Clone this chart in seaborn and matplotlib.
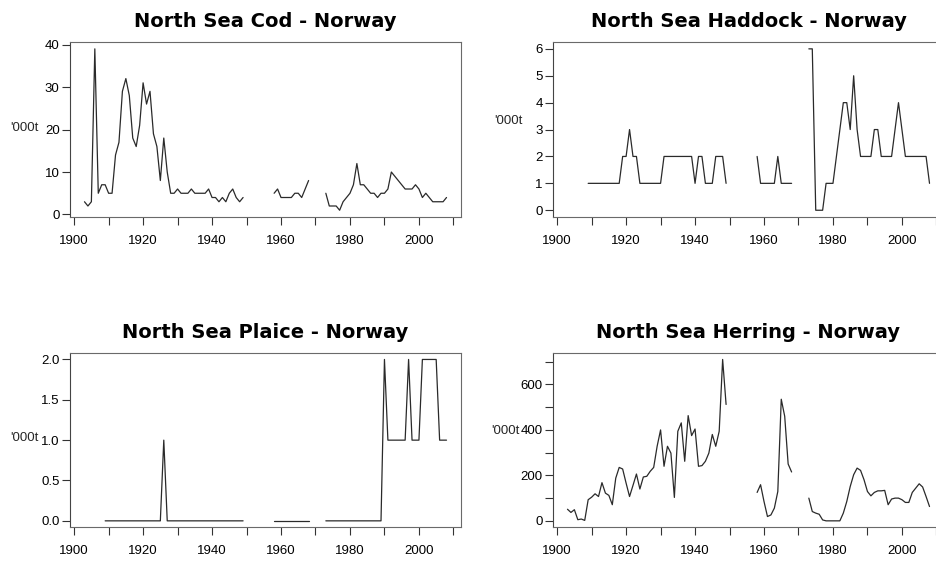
import numpy as np
import pandas as pd
import matplotlib
matplotlib.use("Agg")
import matplotlib.pyplot as plt
import seaborn as sns
from matplotlib.ticker import MultipleLocator, FuncFormatter

# ---------------- data ('000 tonnes landed by Norway) ----------------
cod_years = list(range(1903, 1950)) + list(range(1958, 1969)) + list(range(1973, 2009))
cod_values = [3, 2, 3, 39, 5, 7, 7, 5, 5, 14,
              17, 29, 32, 28, 18, 16, 21, 31, 26, 29,
              19, 16, 8, 18, 10, 5, 5, 6, 5, 5,
              5, 6, 5, 5, 5, 5, 6, 4, 4, 3,
              4, 3, 5, 6, 4, 3, 4,
              5, 6, 4, 4, 4, 4, 5, 5, 4, 6, 8,
              5, 2, 2, 2, 1, 3, 4, 5, 7, 12,
              7, 7, 6, 5, 5, 4, 5, 5, 6, 10,
              9, 8, 7, 6, 6, 6, 7, 6, 4, 5,
              4, 3, 3, 3, 3, 4]

haddock_years = list(range(1909, 1950)) + list(range(1958, 1969)) + list(range(1973, 2009))
haddock_values = [1, 1, 1, 1, 1, 1, 1, 1, 1, 1,
                  2, 2, 3, 2, 2,
                  1, 1, 1, 1, 1, 1, 1,
                  2, 2, 2, 2, 2, 2, 2, 2, 2,
                  1, 2, 2, 1, 1, 1, 2, 2, 2, 1,
                  2, 1, 1, 1, 1, 1, 2, 1, 1, 1, 1,
                  6, 6, 0, 0, 0, 1, 1, 1, 2, 3,
                  4, 4, 3, 5, 3, 2, 2, 2, 2, 3,
                  3, 2, 2, 2, 2, 3, 4, 3, 2, 2,
                  2, 2, 2, 2, 2, 1]

plaice_years = list(range(1909, 1950)) + list(range(1958, 1969)) + list(range(1973, 2009))
plaice_values = [0, 0, 0, 0, 0, 0, 0, 0, 0, 0,
                 0, 0, 0, 0, 0, 0, 0, 1, 0, 0,
                 0, 0, 0, 0, 0, 0, 0, 0, 0, 0,
                 0, 0, 0, 0, 0, 0, 0, 0, 0, 0, 0,
                 0, 0, 0, 0, 0, 0, 0, 0, 0, 0, 0,
                 0, 0, 0, 0, 0, 0, 0, 0, 0, 0,
                 0, 0, 0, 0, 0, 0, 0, 2, 1, 1,
                 1, 1, 1, 1, 2, 1, 1, 1, 2, 2,
                 2, 2, 2, 1, 1, 1]

herring_years = list(range(1903, 1950)) + list(range(1958, 1969)) + list(range(1973, 2009))
herring_values = [51, 37, 49, 5, 8, 2, 93, 104, 119, 107,
                  168, 122, 112, 71, 188, 235, 228, 166, 107, 156,
                  206, 140, 193, 196, 218, 235, 328, 400, 240, 328,
                  298, 103, 394, 431, 262, 463, 375, 404, 240, 243,
                  262, 298, 380, 328, 394, 710, 512,
                  125, 159, 85, 19, 26, 56, 129, 535, 460, 250, 215,
                  100, 41, 34, 29, 4, 0, 0, 0, 0, 0,
                  34, 85, 151, 203, 232, 222, 181, 129, 110, 125,
                  132, 132, 134, 71, 96, 100, 100, 93, 81, 81,
                  125, 144, 163, 149, 107, 63]

titles = ["North Sea Cod - Norway", "North Sea Haddock - Norway",
          "North Sea Plaice - Norway", "North Sea Herring - Norway"]
y_label = "'000t"

# ---------------- style ----------------
sns.set_theme(style="white")
plt.rcParams["font.family"] = ["Liberation Sans", "DejaVu Sans"]

W, H = 936, 562
fig = plt.figure(figsize=(W / 100, H / 100), dpi=100)
fig.patch.set_facecolor("white")


def rect(left_px, bottom_px, w_px=391, h_px=174.3):
    return [left_px / W, 1 - bottom_px / H, w_px / W, h_px / H]


panels = [
    dict(years=cod_years, values=cod_values, title=titles[0], rect=rect(70, 216.7),
         ystep=10, ylab_every=10, fmt="{:.0f}", lab=(-0.079, 0.51)),
    dict(years=haddock_years, values=haddock_values, title=titles[1], rect=rect(553, 216.7),
         ystep=1, ylab_every=1, fmt="{:.0f}", lab=(-0.077, 0.55)),
    dict(years=plaice_years, values=plaice_values, title=titles[2], rect=rect(70, 527.3),
         ystep=0.5, ylab_every=0.5, fmt="{:.1f}", lab=(-0.079, 0.51)),
    dict(years=herring_years, values=herring_values, title=titles[3], rect=rect(553, 527.3),
         ystep=100, ylab_every=200, fmt="{:.0f}", lab=(-0.085, 0.55)),
]

all_years = np.concatenate([np.array(p["years"]) for p in panels])
x_lo, x_hi = all_years.min(), all_years.max()
x_rng = x_hi - x_lo

line_col = "#2a2a2a"
spine_col = "#6a6a6a"

for p in panels:
    ax = fig.add_axes(p["rect"])
    yrs = np.array(p["years"])
    seg = np.concatenate([[0], np.cumsum(np.diff(yrs) > 1)])
    df = pd.DataFrame({"year": yrs, "catch": p["values"], "seg": seg})
    sns.lineplot(data=df, x="year", y="catch", units="seg", estimator=None,
                 color=line_col, linewidth=0.9, ax=ax, legend=False)

    # R-like 4% axis extension, common x range
    ax.set_xlim(x_lo - 0.04 * x_rng, x_hi + 0.04 * x_rng)
    vmin, vmax = min(p["values"]), max(p["values"])
    yr_ = vmax - vmin
    ax.set_ylim(vmin - 0.04 * yr_, vmax + 0.04 * yr_)

    ax.xaxis.set_major_locator(MultipleLocator(10))
    ax.xaxis.set_major_formatter(FuncFormatter(
        lambda v, pos: f"{int(round(v))}" if int(round(v)) % 20 == 0 else ""))
    step = p["ystep"]
    every = p["ylab_every"]
    fmt = p["fmt"]
    ax.yaxis.set_major_locator(MultipleLocator(step))
    ax.yaxis.set_major_formatter(FuncFormatter(
        lambda v, pos, every=every, fmt=fmt: fmt.format(v)
        if abs(v / every - round(v / every)) < 1e-6 else ""))

    ax.tick_params(axis="x", direction="out", length=5.5, width=0.8, color="#333333",
                   pad=7.5, labelsize=9.5, labelcolor="black", bottom=True)
    ax.tick_params(axis="y", direction="out", length=5.5, width=0.8, color="#333333",
                   pad=2, labelsize=9.5, labelcolor="black", left=True)

    for side, sp in ax.spines.items():
        sp.set_visible(True)
        sp.set_linewidth(0.8)
        sp.set_color("#444444" if side == "left" else spine_col)

    ax.set_xlabel("")
    ax.set_ylabel(y_label, rotation=0, ha="right", va="center", fontsize=9.5, labelpad=0)
    ax.yaxis.set_label_coords(*p["lab"])
    ax.set_title(p["title"], fontsize=14, fontweight="bold", family="DejaVu Sans",
                 pad=11, color="black")
    ax.grid(False)

fig.savefig("out.png", dpi=100, facecolor="white")
